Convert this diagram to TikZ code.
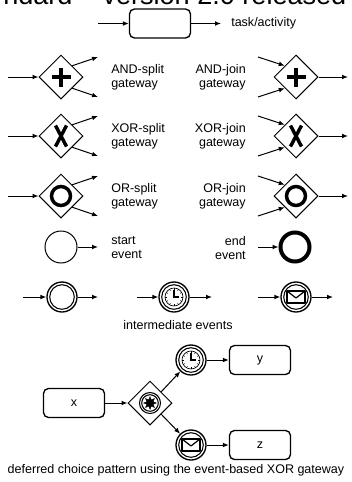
\documentclass[tikz,border=0pt]{standalone}
\usepackage{fontspec}
\setmainfont{Liberation Sans}
\usetikzlibrary{shapes.geometric,arrows.meta}

\tikzset{
  % clock face used by the timer events
  clockface/.pic={
    \draw[line width=0.5pt] (0,0) circle (9);
    \foreach \a in {0,30,...,330} \draw[line width=0.4pt] (\a:7.2) -- (\a:9);
    \draw[line width=0.8pt] (0,-7) -- (0,0) -- (5,0);
  },
  % envelope used by the message events
  envelope/.pic={
    \draw[line width=0.9pt,line join=round] (-9,-6) rectangle (9,6);
    \draw[line width=0.9pt,line join=round] (-9,-6) -- (0,1) -- (9,-6);
  },
  % inner ring of an intermediate event
  innerring/.pic={
    \draw[line width=0.8pt] (0,0) circle (#1);
  },
}

\begin{document}
\begin{tikzpicture}[x=0.75pt,y=-0.75pt,
  conn/.style={line width=0.75pt,-{Latex[length=4.5pt,width=3.6pt]}},
  gw/.style={diamond,draw,line width=0.75pt,minimum size=33pt,inner sep=0pt,aspect=1},
  taskbox/.style={draw,line width=1pt,rounded corners=3.75pt,minimum width=45.75pt,
    minimum height=21.75pt,inner sep=0pt,font=\fontsize{9.4}{10.5}\selectfont},
  lbl/.style={font=\fontsize{9.4}{10.5}\selectfont,inner sep=0pt},
  startev/.style={circle,draw,line width=0.75pt,minimum size=24pt,inner sep=0pt},
  endev/.style={circle,draw,line width=3pt,minimum size=21.75pt,inner sep=0pt},
  midev/.style={circle,draw,line width=1pt,minimum size=22.5pt,inner sep=0pt},
  andmark/.style={line width=3pt},
  xormark/.style={line width=2.6pt},
  ormark/.style={line width=2.6pt},
]
\useasboundingbox (0,0) rectangle (352,482);

% title line, cut off at the top edge
\begin{scope}
  \clip (0,0) rectangle (352,5);
  \node[anchor=base west,inner sep=0pt,font=\fontsize{20.3}{24}\selectfont] (title) at (3,4)
    {ndard – version 2.0 released};
\end{scope}

% task / activity
\node[taskbox] (task) at (160,23.5) {};
\coordinate (taskin) at (98,23.5);
\coordinate (taskout) at (221,23.5);
\draw[conn] (taskin) -- (task.west);
\draw[conn] (task.east) -- (taskout);
\node[lbl,anchor=west] (tasklbl) at (231,23) {task/activity};

% split and join gateways
\foreach \nm/\y/\s/\j in {and/77/AND-split/AND-join,xor/136/XOR-split/XOR-join,or/196/OR-split/OR-join}{
  \node[gw] (\nm split) at (61,\y) {};
  \coordinate (\nm in) at (8,\y);
  \coordinate (\nm outa) at (98,\y-20);
  \coordinate (\nm outb) at (98,\y+20);
  \draw[conn] (\nm in) -- (\nm split.west);
  \draw[conn] (\nm split.north east) -- (\nm outa);
  \draw[conn] (\nm split.south east) -- (\nm outb);
  \node[lbl,anchor=west,align=left] (\nm splitlbl) at (111,\y) {\s\\gateway};

  \node[gw] (\nm join) at (296,\y) {};
  \coordinate (\nm ina) at (258,\y-20);
  \coordinate (\nm inb) at (258,\y+20);
  \coordinate (\nm out) at (348,\y);
  \draw[conn] (\nm ina) -- (\nm join.north west);
  \draw[conn] (\nm inb) -- (\nm join.south west);
  \draw[conn] (\nm join.east) -- (\nm out);
  \node[lbl,anchor=east,align=right] (\nm joinlbl) at (246,\y) {\j\\gateway};
}

% gateway markers
\foreach \g in {andsplit,andjoin}{
  \draw[andmark] (\g.center) ++(-9.5,0) -- ++(19,0);
  \draw[andmark] (\g.center) ++(0,-9.5) -- ++(0,19);
}
\foreach \g in {xorsplit,xorjoin}{
  \draw[xormark] (\g.center) ++(-5.5,-10.5) -- ++(11,21);
  \draw[xormark] (\g.center) ++(5.5,-10.5) -- ++(-11,21);
}
\foreach \g in {orsplit,orjoin}{
  \draw[ormark] (\g.center) circle (9.5);
}

% start and end events
\node[startev] (start) at (61,247) {};
\coordinate (startout) at (98,247);
\draw[conn] (start.east) -- (startout);
\node[lbl,anchor=west,align=left] (startlbl) at (111,248) {start\\event};

\node[endev] (end) at (295,247) {};
\coordinate (endin) at (258,247);
\draw[conn] (endin) -- (end.west);
\node[lbl,anchor=east,align=right] (endlbl) at (246,248) {end\\event};

% intermediate events
\node[midev] (plain) at (62,297) {};
\node[midev] (timer) at (174,297) {};
\node[midev] (msg) at (296,297) {};
\foreach \e/\a/\b in {plain/23/98,timer/137/212,msg/258/333}{
  \coordinate (\e in) at (\a,297);
  \coordinate (\e out) at (\b,297);
  \draw[conn] (\e in) -- (\e.west);
  \draw[conn] (\e.east) -- (\e out);
  \pic at (\e) {innerring=12.3};
}
\pic at (timer) {clockface};
\pic at (msg) {envelope};
\node[lbl] (midlbl) at (178,325) {intermediate events};

% deferred choice with an event-based gateway
\node[taskbox] (x) at (74,403) {x};
\node[gw] (evgw) at (150,403) {};
\draw[line width=0.8pt] (evgw.center) circle (10.5);
\draw[line width=0.8pt] (evgw.center) circle (8.3);
\node[star,star points=8,star point ratio=1.9,fill,draw,line width=0.3pt,inner sep=0pt,
  minimum size=9.5pt] (evstar) at (evgw.center) {};
\node[midev] (wait) at (191,360) {};
\node[midev] (recv) at (191,445) {};
\pic at (wait) {innerring=12.3};
\pic at (recv) {innerring=12.3};
\pic at (wait) {clockface};
\pic at (recv) {envelope};
\node[taskbox] (y) at (260,360) {y};
\node[taskbox] (z) at (260,445) {z};
\draw[conn] (x.east) -- (evgw.west);
\draw[conn] (evgw.north east) -- (wait);
\draw[conn] (evgw.south east) -- (recv);
\draw[conn] (wait.east) -- (y.west);
\draw[conn] (recv.east) -- (z.west);
\node[lbl] (caption) at (176,470) {deferred choice pattern using the event-based XOR gateway};
\end{tikzpicture}
\end{document}
